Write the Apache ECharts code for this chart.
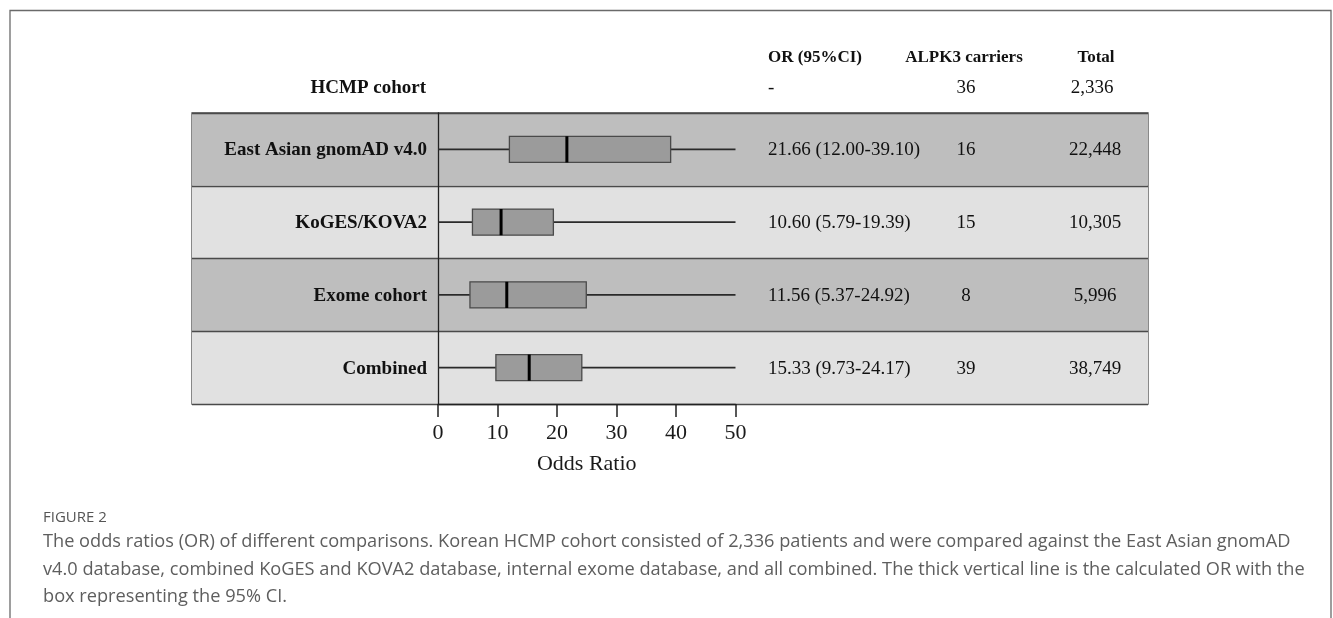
<!DOCTYPE html>
<html><head><meta charset="utf-8">
<script src="https://cdn.jsdelivr.net/npm/echarts@6/dist/echarts.min.js"></script>
<style>html,body{margin:0;padding:0;background:#fff}#c{width:1333px;height:618px}</style>
</head><body><div id="c"></div>
<script>
// ---- data ----
const categories = ['East Asian gnomAD v4.0', 'KoGES/KOVA2', 'Exome cohort', 'Combined'];
const oddsRatio = [21.66, 10.60, 11.56, 15.33];
const ciLower = [12.00, 5.79, 5.37, 9.73];
const ciUpper = [39.10, 19.39, 24.92, 24.17];
const whiskerLow = [0, 0, 0, 0];
const whiskerHigh = [50, 50, 50, 50];
const orText = ['21.66 (12.00-39.10)', '10.60 (5.79-19.39)', '11.56 (5.37-24.92)', '15.33 (9.73-24.17)'];
const carriers = ['16', '15', '8', '39'];
const totals = ['22,448', '10,305', '5,996', '38,749'];
const refRow = ['HCMP cohort', '-', '36', '2,336'];
const columnHeaders = ['OR (95%CI)', 'ALPK3 carriers', 'Total'];
const xTicks = [0, 10, 20, 30, 40, 50];
const xAxisTitle = 'Odds Ratio';
const captionTitle = 'FIGURE 2';
const captionLines = [
  'The odds ratios (OR) of different comparisons. Korean HCMP cohort consisted of 2,336 patients and were compared against the East Asian gnomAD',
  'v4.0 database, combined KoGES and KOVA2 database, internal exome database, and all combined. The thick vertical line is the calculated OR with the',
  'box representing the 95% CI.'
];

// ---- layout ----
const SERIF = '"Liberation Serif", "Times New Roman", serif';
const SANS = '"Open Sans", "Noto Sans", sans-serif';
const TABLE_L = 192, TABLE_R = 1148, TOP = 113, BOTTOM = 404;
const PLOT_L = 438, PLOT_R = 735.5;
const COL_LABEL = 427, COL_OR = 768, COL_CAR = 966, COL_TOT = 1095;

const chart = echarts.init(document.getElementById('c'), null, {renderer: 'canvas'});

const boxData = categories.map((c, i) => [i, whiskerLow[i], ciLower[i], oddsRatio[i], ciUpper[i], whiskerHigh[i]]);
const textData = categories.map((c, i) => [0.5, i]);

const option = {
  backgroundColor: '#ffffff',
  animation: false,
  grid: [
    {left: TABLE_L, right: 1333 - TABLE_R, top: TOP, bottom: 618 - BOTTOM, show: true,
     borderColor: '#4a4a4a', borderWidth: 1.3, backgroundColor: 'transparent'},
    {left: PLOT_L, right: 1333 - PLOT_R, top: TOP, bottom: 618 - BOTTOM, show: false}
  ],
  xAxis: [
    {gridIndex: 0, type: 'value', min: 0, max: 1, show: false},
    {gridIndex: 1, type: 'value', min: xTicks[0], max: xTicks[xTicks.length - 1], interval: 10,
     axisLine: {show: true, lineStyle: {color: '#222', width: 1.3}},
     axisTick: {show: true, length: 13, lineStyle: {color: '#222', width: 1.5}},
     axisLabel: {fontFamily: SERIF, fontSize: 22, color: '#1a1a1a', margin: 18},
     splitLine: {show: false},
     name: xAxisTitle, nameLocation: 'middle', nameGap: 49,
     nameTextStyle: {fontFamily: SERIF, fontSize: 22, color: '#1a1a1a'}}
  ],
  yAxis: [
    {gridIndex: 0, type: 'category', data: categories, inverse: true,
     axisLine: {show: false}, axisTick: {show: false}, axisLabel: {show: false},
     splitLine: {show: true, interval: 0, lineStyle: {color: '#4a4a4a', width: 1.3}},
     splitArea: {show: true, interval: 0, areaStyle: {color: ['#bebebe', '#e1e1e1']}}},
    {gridIndex: 1, type: 'category', data: categories, inverse: true,
     axisLine: {show: true, lineStyle: {color: '#222', width: 1.3}},
     axisTick: {show: false}, axisLabel: {show: false}, splitLine: {show: false}}
  ],
  series: [
    {
      type: 'custom', xAxisIndex: 1, yAxisIndex: 1, data: boxData, clip: false,
      encode: {x: [1, 2, 3, 4, 5], y: 0},
      renderItem: function (params, api) {
        const i = api.value(0);
        const pLo = api.coord([api.value(1), i]);
        const pQ1 = api.coord([api.value(2), i]);
        const pMed = api.coord([api.value(3), i]);
        const pQ3 = api.coord([api.value(4), i]);
        const pHi = api.coord([api.value(5), i]);
        const band = api.size([0, 1])[1];
        const h = band * 0.36;
        const y = pMed[1];
        return {type: 'group', children: [
          {type: 'line', shape: {x1: pLo[0], y1: y, x2: pQ1[0], y2: y}, style: {stroke: '#2a2a2a', lineWidth: 1.7}},
          {type: 'line', shape: {x1: pQ3[0], y1: y, x2: pHi[0], y2: y}, style: {stroke: '#2a2a2a', lineWidth: 1.7}},
          {type: 'rect', shape: {x: pQ1[0], y: y - h / 2, width: pQ3[0] - pQ1[0], height: h},
           style: {fill: '#9b9b9b', stroke: '#4a4a4a', lineWidth: 1.3}},
          {type: 'line', shape: {x1: pMed[0], y1: y - h / 2, x2: pMed[0], y2: y + h / 2},
           style: {stroke: '#000', lineWidth: 3}}
        ]};
      }
    },
    {
      type: 'custom', xAxisIndex: 0, yAxisIndex: 0, data: textData, clip: false, z: 5,
      encode: {x: 0, y: 1},
      renderItem: function (params, api) {
        const i = api.value(1);
        const y = api.coord([0, i])[1] + 1;
        const base = {fontFamily: SERIF, fontSize: 19, fill: '#111', verticalAlign: 'middle'};
        return {type: 'group', children: [
          {type: 'text', style: Object.assign({}, base, {x: COL_LABEL, y: y, text: categories[i], align: 'right', fontWeight: 'bold'})},
          {type: 'text', style: Object.assign({}, base, {x: COL_OR, y: y, text: orText[i], align: 'left'})},
          {type: 'text', style: Object.assign({}, base, {x: COL_CAR, y: y, text: carriers[i], align: 'center'})},
          {type: 'text', style: Object.assign({}, base, {x: COL_TOT, y: y, text: totals[i], align: 'center'})}
        ]};
      }
    }
  ],
  graphic: [
    {type: 'polyline', shape: {points: [[10, 618], [10, 10.5], [1331, 10.5], [1331, 618]]},
     style: {stroke: '#6a6a6a', lineWidth: 1.3, fill: null}, silent: true},
    // column headers
    {type: 'text', style: {x: COL_OR, y: 58, text: columnHeaders[0], align: 'left', verticalAlign: 'middle',
      fontFamily: SERIF, fontSize: 17, fontWeight: 'bold', fill: '#111'}},
    {type: 'text', style: {x: 964, y: 58, text: columnHeaders[1], align: 'center', verticalAlign: 'middle',
      fontFamily: SERIF, fontSize: 17, fontWeight: 'bold', fill: '#111'}},
    {type: 'text', style: {x: 1096, y: 58, text: columnHeaders[2], align: 'center', verticalAlign: 'middle',
      fontFamily: SERIF, fontSize: 17, fontWeight: 'bold', fill: '#111'}},
    // reference row
    {type: 'text', style: {x: 426, y: 88, text: refRow[0], align: 'right', verticalAlign: 'middle',
      fontFamily: SERIF, fontSize: 19, fontWeight: 'bold', fill: '#111'}},
    {type: 'text', style: {x: COL_OR, y: 88, text: refRow[1], align: 'left', verticalAlign: 'middle',
      fontFamily: SERIF, fontSize: 19, fill: '#111'}},
    {type: 'text', style: {x: COL_CAR, y: 88, text: refRow[2], align: 'center', verticalAlign: 'middle',
      fontFamily: SERIF, fontSize: 19, fill: '#111'}},
    {type: 'text', style: {x: 1092, y: 88, text: refRow[3], align: 'center', verticalAlign: 'middle',
      fontFamily: SERIF, fontSize: 19, fill: '#111'}},
    // caption
    {type: 'text', style: {x: 43, y: 518, text: captionTitle, align: 'left', verticalAlign: 'middle',
      fontFamily: SANS, fontSize: 15, fill: '#555'}},
    {type: 'text', style: {x: 43, y: 542, text: captionLines[0], align: 'left', verticalAlign: 'middle',
      fontFamily: SANS, fontSize: 18.2, fill: '#5e5e5e'}},
    {type: 'text', style: {x: 43, y: 569.5, text: captionLines[1], align: 'left', verticalAlign: 'middle',
      fontFamily: SANS, fontSize: 18.2, fill: '#5e5e5e'}},
    {type: 'text', style: {x: 43, y: 597, text: captionLines[2], align: 'left', verticalAlign: 'middle',
      fontFamily: SANS, fontSize: 18.2, fill: '#5e5e5e'}}
  ]
};
chart.setOption(option);
</script></body></html>
